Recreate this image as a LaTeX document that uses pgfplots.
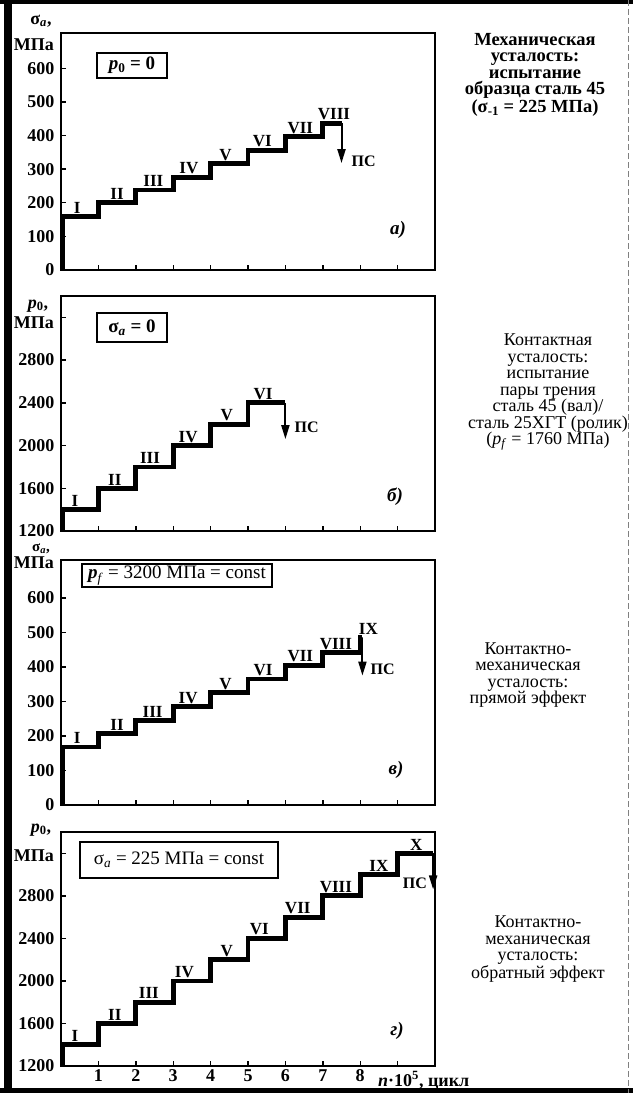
\documentclass[border=0pt]{standalone}
\usepackage{fontspec}
\setmainfont{Liberation Serif}
\usepackage{pgfplots}
\pgfplotsset{compat=1.18}
\usetikzlibrary{arrows.meta}
\newcommand\fsz[2]{\fontsize{#1}{#2}\selectfont}
\newcommand\sub[1]{\textsubscript{#1}}
\pgfplotsset{
  panel/.style={
    scale only axis, width=374pt,
    xmin=0, xmax=10,
    axis line style={line width=1.6pt},
    every tick/.style={line width=1.4pt, black},
    major tick length=5pt,
    xtick={1,2,...,9}, xticklabels={},
    tick pos=left, tick align=inside,
    yticklabel style={font=\fsz{18}{18}\bfseries, xshift=-3pt},
    xticklabel style={font=\fsz{18}{18}\bfseries},
    /pgf/number format/assume math mode=true,
    /pgf/number format/1000 sep={},
    clip=false,
  },
}
\tikzset{
  stp/.style={line width=4.8pt, black, line join=miter, line cap=butt},
  arr/.style={line width=2pt, black, -{Triangle[length=14pt,width=8pt]}},
  rn/.style={font=\fsz{17}{17}\bfseries, anchor=south, inner sep=0pt, yshift=3pt},
  ps/.style={font=\fsz{16}{16}\bfseries, inner sep=0pt},
  bx/.style={draw, line width=1.5pt, inner sep=0pt, font=\fsz{19}{19}\bfseries},
  ul/.style={font=\fsz{18}{18}\bfseries, inner sep=0pt},
  lt/.style={font=\fsz{19}{19}\bfseries\itshape, inner sep=0pt},
  desc/.style={align=center, inner sep=0pt, font=\fsz{18}{16.5}\selectfont},
}
\begin{document}
\begin{tikzpicture}
% ---------------- panel a ----------------
\begin{axis}[panel, at={(61pt,-270pt)}, anchor=south west, height=237pt,
  ymin=0, ymax=705, ytick={0,100,...,600}]
\addplot[stp] coordinates {(0.05,0) (0.05,160) (1,160) (1,200) (2,200) (2,238) (3,238) (3,276) (4,276) (4,316) (5,316) (5,356) (6,356) (6,396) (7,396) (7,436) (7.5,436)};
\addplot[arr] coordinates {(7.5,436) (7.5,318)};
\node[rn] at (axis cs:0.43,160) {I};
\node[rn] at (axis cs:1.5,200) {II};
\node[rn] at (axis cs:2.47,238) {III};
\node[rn] at (axis cs:3.42,276) {IV};
\node[rn] at (axis cs:4.4,316) {V};
\node[rn] at (axis cs:5.38,356) {VI};
\node[rn] at (axis cs:6.4,396) {VII};
\node[rn] at (axis cs:7.3,436) {VIII};
\node[ps, anchor=west, xshift=10pt] at (axis cs:7.5,322) {ПС};
\end{axis}
% ---------------- panel b ----------------
\begin{axis}[panel, at={(61pt,-531pt)}, anchor=south west, height=235pt,
  ymin=1200, ymax=3400, ytick={1200,1600,2000,2400,2800,3200},
  yticklabels={1200,1600,2000,2400,2800,{}}]
\addplot[stp] coordinates {(0.05,1200) (0.05,1400) (1,1400) (1,1600) (2,1600) (2,1800) (3,1800) (3,2000) (4,2000) (4,2200) (5,2200) (5,2400) (6,2400)};
\addplot[arr] coordinates {(6,2400) (6,2060)};
\node[rn] at (axis cs:0.37,1400) {I};
\node[rn] at (axis cs:1.44,1600) {II};
\node[rn] at (axis cs:2.38,1800) {III};
\node[rn] at (axis cs:3.4,2000) {IV};
\node[rn] at (axis cs:4.43,2200) {V};
\node[rn] at (axis cs:5.4,2400) {VI};
\node[ps, anchor=west, xshift=9pt] at (axis cs:6,2167) {ПС};
\end{axis}
% ---------------- panel v ----------------
\begin{axis}[panel, at={(61pt,-805pt)}, anchor=south west, height=245pt,
  ymin=0, ymax=710, ytick={0,100,...,600}]
\addplot[stp] coordinates {(0.05,0) (0.05,168) (1,168) (1,207) (2,207) (2,245) (3,245) (3,285) (4,285) (4,325) (5,325) (5,365) (6,365) (6,405) (7,405) (7,442) (8,442) (8,485) (8.06,485)};
\addplot[arr] coordinates {(8.06,485) (8.06,375)};
\node[rn] at (axis cs:0.43,168) {I};
\node[rn] at (axis cs:1.5,207) {II};
\node[rn] at (axis cs:2.45,245) {III};
\node[rn] at (axis cs:3.4,285) {IV};
\node[rn] at (axis cs:4.4,325) {V};
\node[rn] at (axis cs:5.4,365) {VI};
\node[rn] at (axis cs:6.4,405) {VII};
\node[rn] at (axis cs:7.35,442) {VIII};
\node[rn] at (axis cs:8.22,485) {IX};
\node[ps, anchor=west, xshift=8pt] at (axis cs:8.06,394) {ПС};
\end{axis}
% ---------------- panel g ----------------
\begin{axis}[panel, at={(61pt,-1066pt)}, anchor=south west, height=234pt,
  ymin=1200, ymax=3400, ytick={1200,1600,2000,2400,2800,3200},
  yticklabels={1200,1600,2000,2400,2800,{}},
  xticklabels={1,2,3,4,5,6,7,8,{}}]
\addplot[stp] coordinates {(0.05,1200) (0.05,1400) (1,1400) (1,1600) (2,1600) (2,1800) (3,1800) (3,2000) (4,2000) (4,2200) (5,2200) (5,2400) (6,2400) (6,2600) (7,2600) (7,2800) (8,2800) (8,3000) (9,3000) (9,3200) (9.95,3200)};
\addplot[arr] coordinates {(9.95,3200) (9.95,2860)};
\node[rn] at (axis cs:0.37,1400) {I};
\node[rn] at (axis cs:1.44,1600) {II};
\node[rn] at (axis cs:2.35,1800) {III};
\node[rn] at (axis cs:3.3,2000) {IV};
\node[rn] at (axis cs:4.43,2200) {V};
\node[rn] at (axis cs:5.3,2400) {VI};
\node[rn] at (axis cs:6.33,2600) {VII};
\node[rn] at (axis cs:7.35,2800) {VIII};
\node[rn] at (axis cs:8.5,3000) {IX};
\node[rn] at (axis cs:9.5,3200) {X};
\node[ps, anchor=east, xshift=-6pt] at (axis cs:9.95,2914) {ПС};
\end{axis}
% ---------------- boxes ----------------
\node[bx, minimum width=70pt, minimum height=25pt] at (132pt,-65.5pt) {\textit{p}\sub{0} = 0};
\node[bx, minimum width=70pt, minimum height=29pt] at (132pt,-327.5pt) {σ\sub{\textit{a}} = 0};
\node[bx, minimum width=190pt, minimum height=23pt, font=\fsz{19}{19}\selectfont] at (177pt,-575.5pt) {\textbf{\textit{p}}\sub{\textit{f}} = 3200 МПа = const};
\node[bx, minimum width=198pt, minimum height=36pt, font=\fsz{19}{19}\selectfont] at (179pt,-860pt) {σ\sub{\textit{a}} = 225 МПа = const};
% ---------------- unit labels ----------------
\node[ul] at (41pt,-21pt) {σ\sub{\textit{a}},};
\node[ul, anchor=east] at (54pt,-45pt) {МПа};
\node[ul] at (38pt,-306pt) {\textit{p}\sub{0},};
\node[ul, anchor=east] at (54pt,-323pt) {МПа};
\node[ul, font=\fsz{15}{15}\bfseries] at (41pt,-549pt) {σ\sub{\textit{a}},};
\node[ul, anchor=east] at (54pt,-563pt) {МПа};
\node[ul] at (41pt,-830pt) {\textit{p}\sub{0},};
\node[ul, anchor=east] at (54pt,-856pt) {МПа};
\node[ul, anchor=base west] at (378pt,-1086pt) {\textit{n}·10\textsuperscript{5}, цикл};
% ---------------- panel letters ----------------
\node[lt] at (398pt,-230pt) {а)};
\node[lt] at (395pt,-497pt) {б)};
\node[lt] at (396pt,-770pt) {в)};
\node[lt] at (397pt,-1031pt) {г)};
% ---------------- descriptions ----------------
\node[desc, font=\fsz{18.5}{16.5}\bfseries] at (535pt,-75pt) {Механическая\\усталость:\\испытание\\образца сталь 45\\(σ\sub{-1} = 225 МПа)};
\node[desc] at (548pt,-392pt) {Контактная\\усталость:\\испытание\\пары трения\\сталь 45 (вал)/\\сталь 25ХГТ (ролик)\\(\textit{p}\sub{\textit{f}} = 1760 МПа)};
\node[desc] at (528pt,-675pt) {Контактно-\\механическая\\усталость:\\прямой эффект};
\node[desc] at (538pt,-949pt) {Контактно-\\механическая\\усталость:\\обратный эффект};
% ---------------- frame ----------------
\fill[black] (4pt,0pt) rectangle (12pt,-1093pt);
\fill[black] (0pt,0pt) rectangle (633pt,-4pt);
\fill[black] (0pt,-1088pt) rectangle (633pt,-1093pt);
\draw[gray, line width=1pt, dash pattern=on 6pt off 3pt] (628pt,0pt) -- (628pt,-1093pt);
\pgfresetboundingbox
\path (0pt,0pt) rectangle (633pt,-1093pt);
\end{tikzpicture}
\end{document}
